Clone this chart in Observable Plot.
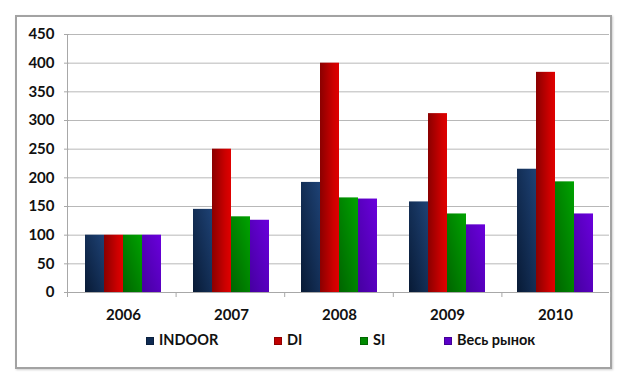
<!DOCTYPE html>
<html>
<head>
<meta charset="utf-8">
<script src="https://cdn.jsdelivr.net/npm/d3@7"></script>
<script src="https://cdn.jsdelivr.net/npm/@observablehq/plot@0.6"></script>
<style>
  html, body { margin: 0; padding: 0; background: #fff; }
  #wrap { position: relative; width: 617px; height: 390px; overflow: hidden; font-family: Lato, "Open Sans", sans-serif; }
  #frame { position: absolute; left: 15px; top: 15px; width: 597px; height: 354px; box-sizing: border-box;
           border: 2px solid #a3a3a3; box-shadow: 1px 1px 2px #cfcfcf; }
  #chart { position: absolute; left: 0; top: 0; }
  .leg { position: absolute; top: 331px; font: bold 14.5px Lato, sans-serif; color: #111; white-space: nowrap; line-height: 18px; }
  .sw { display: inline-block; width: 8px; height: 8px; margin-right: 5px; vertical-align: 0px; box-sizing: border-box; }
</style>
</head>
<body>
<svg width="0" height="0" style="position:absolute">
  <defs>
    <linearGradient id="gIndoor" x1="0" y1="1" x2="1" y2="0">
      <stop offset="0" stop-color="#081a35"/><stop offset="1" stop-color="#1e4275"/>
    </linearGradient>
    <linearGradient id="gDI" x1="0" y1="0" x2="1" y2="0">
      <stop offset="0" stop-color="#8a0000"/><stop offset="0.7" stop-color="#cc0000"/><stop offset="1" stop-color="#e00000"/>
    </linearGradient>
    <linearGradient id="gSI" x1="0" y1="1" x2="1" y2="0">
      <stop offset="0" stop-color="#006400"/><stop offset="1" stop-color="#00a300"/>
    </linearGradient>
    <linearGradient id="gAll" x1="0" y1="1" x2="1" y2="0">
      <stop offset="0" stop-color="#4500a0"/><stop offset="1" stop-color="#6a00dc"/>
    </linearGradient>
  </defs>
</svg>
<div id="wrap">
  <div id="frame"></div>
  <div id="chart"></div>
</div>
<script>
const years = ["2006", "2007", "2008", "2009", "2010"];
const seriesNames = ["INDOOR", "DI", "SI", "Весь рынок"];
const indoor = [100, 145, 192, 158, 215];
const di = [100, 250, 400, 312, 384];
const si = [100, 132, 165, 137, 193];
const market = [100, 126, 163, 118, 137];
const yTicks = [0, 50, 100, 150, 200, 250, 300, 350, 400, 450];

const seriesFills = ["url(#gIndoor)", "url(#gDI)", "url(#gSI)", "url(#gAll)"];
const swatchColors = ["#0f2a52", "#c00000", "#008a00", "#5a00c8"];
const legendLeft = [146, 274, 360, 444];

const seriesValues = [indoor, di, si, market];
const rows = [];
years.forEach((yr, i) => {
  seriesNames.forEach((s, j) => rows.push({year: yr, series: s, value: seriesValues[j][i]}));
});

const W = 617, H = 330, ML = 67, MR = 7, MT = 34, MB = 38;

const chart = Plot.plot({
  width: W, height: H,
  marginLeft: ML, marginRight: MR, marginTop: MT, marginBottom: MB,
  style: {fontFamily: "Lato, sans-serif", fontWeight: "bold", fontSize: "15px", color: "#111", background: "transparent", overflow: "visible"},
  fx: {domain: years, padding: 0, label: null},
  x: {domain: seriesNames, paddingInner: 0, paddingOuter: 0.75, axis: null},
  y: {domain: [0, 450], label: null},
  color: {domain: seriesNames, range: seriesFills},
  marks: [
    Plot.ruleY(yTicks.filter(d => d > 0), {stroke: "#b8b8b8", strokeWidth: 1}),
    Plot.barY(rows, {fx: "year", x: "series", y: "value", fill: "series", inset: 0}),
    Plot.ruleY([0], {stroke: "#a8a8a8", strokeWidth: 1}),
    Plot.axisY({ticks: yTicks, tickSize: 5, tickPadding: 10, stroke: "#a8a8a8", fontSize: 15, label: null}),
    Plot.axisFx({anchor: "bottom", tickSize: 0, tickPadding: 17, fontSize: 15, label: null})
  ]
});
document.getElementById("chart").appendChild(chart);

// Axis line and category separators (Excel-style), positioned through the fx scale
const svg = d3.select(chart.tagName.toLowerCase() === "svg" ? chart : chart.querySelector("svg"));
const fxs = chart.scale("fx");
const band = d3.scaleBand().domain(fxs.domain).range(fxs.range || [ML, W - MR]).padding(0);
const y0 = H - MB;
const g = svg.append("g").attr("stroke", "#a8a8a8").attr("stroke-width", 1);
g.append("line").attr("x1", band.range()[0] + 0.5).attr("x2", band.range()[0] + 0.5).attr("y1", MT).attr("y2", y0 + 5);
years.forEach(yr => {
  const xx = band(yr) + band.bandwidth();
  g.append("line").attr("x1", xx + 0.5).attr("x2", xx + 0.5).attr("y1", y0).attr("y2", y0 + 5);
});

// Legend
const wrap = document.getElementById("wrap");
seriesNames.forEach((s, i) => {
  const el = document.createElement("div");
  el.className = "leg";
  el.style.left = legendLeft[i] + "px";
  const sw = document.createElement("span");
  sw.className = "sw";
  sw.style.background = swatchColors[i];
  sw.style.border = "1px solid " + d3.color(swatchColors[i]).darker(0.8);
  el.appendChild(sw);
  el.appendChild(document.createTextNode(s));
  wrap.appendChild(el);
});
</script>
</body>
</html>
